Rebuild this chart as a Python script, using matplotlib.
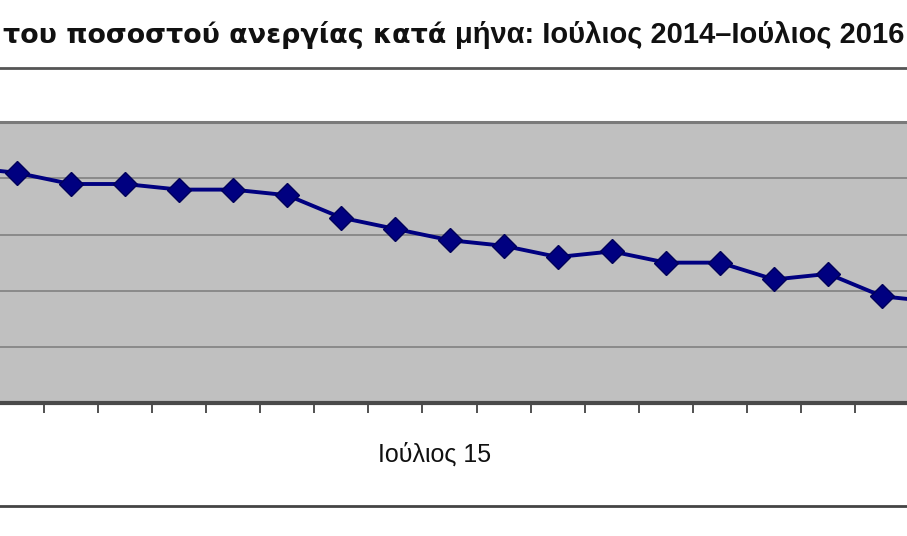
import matplotlib.pyplot as plt
import matplotlib.transforms as mtransforms
from matplotlib.lines import Line2D

# visible window of the series: Οκτ 2014 .. Απρ 2016 (edges cut off)
months = ['Οκτ 14', 'Νοε 14', 'Δεκ 14', 'Ιαν 15', 'Φεβ 15', 'Μαρ 15', 'Απρ 15',
          'Μαϊ 15', 'Ιουν 15', 'Ιούλιος 15', 'Αυγ 15', 'Σεπ 15', 'Οκτ 15',
          'Νοε 15', 'Δεκ 15', 'Ιαν 16', 'Φεβ 16', 'Μαρ 16', 'Απρ 16']
rate = [26.2, 26.1, 25.9, 25.9, 25.8, 25.8, 25.7, 25.3, 25.1, 24.9,
        24.8, 24.6, 24.7, 24.5, 24.5, 24.2, 24.3, 23.9, 23.8]
shown_labels = ['Ιούλιος 15']
title_a = 'του ποσοστού ανεργίας κατά'
title_b = 'μήνα: Ιούλιος 2014–Ιούλιος 2016'

plt.rcParams['font.family'] = ['Liberation Sans', 'DejaVu Sans']

fig = plt.figure(figsize=(9.07, 5.36), dpi=100)
ax = fig.add_axes([0, 0.248, 1, 0.524])
ax.set_facecolor('#c0c0c0')

x = list(range(len(months)))
ax.plot(x, rate, color='#000080', lw=2.8, marker='D', markersize=12,
        markerfacecolor='#000080', markeredgecolor='#00005a', zorder=3)

ax.set_yticks([23, 24, 25, 26])
ax.yaxis.grid(True, color='#8a8a8a', lw=1.4)
ax.tick_params(axis='y', left=False, labelleft=False)

ax.set_xticks([i + 0.5 for i in x], minor=True)
ax.set_xticks([x[months.index(m)] for m in shown_labels])
ax.set_xticklabels(shown_labels, fontsize=18, color='#111111')
ax.tick_params(axis='x', which='major', length=0, pad=28)
ax.tick_params(axis='x', which='minor', length=7, width=1.2, color='#333333')
shift = mtransforms.ScaledTranslation(-0.15, 0, fig.dpi_scale_trans)
for lab in ax.get_xticklabels():
    lab.set_transform(lab.get_transform() + shift)

# limits last, so the ticks do not widen them
ax.set_xlim(0.691, 17.456)
ax.set_ylim(22, 27)

ax.spines['left'].set_visible(False)
ax.spines['right'].set_visible(False)
ax.spines['top'].set_color('#7a7a7a')
ax.spines['top'].set_linewidth(2.2)
ax.spines['bottom'].set_color('#4a4a4a')
ax.spines['bottom'].set_linewidth(3)

ty = 1 - 43 / 536
fig.text(3 / 907, ty, title_a, fontsize=19.4, fontweight='bold',
         family='DejaVu Sans', ha='left', va='baseline', color='#111111')
fig.text(455 / 907, ty, title_b, fontsize=21, fontweight='bold',
         ha='left', va='baseline', color='#111111')

fig.add_artist(Line2D([0, 1], [1 - 68 / 536] * 2, color='#555555', lw=2))
fig.add_artist(Line2D([0, 1], [1 - 506 / 536] * 2, color='#444444', lw=2))

fig.savefig('out.png', dpi=100)
